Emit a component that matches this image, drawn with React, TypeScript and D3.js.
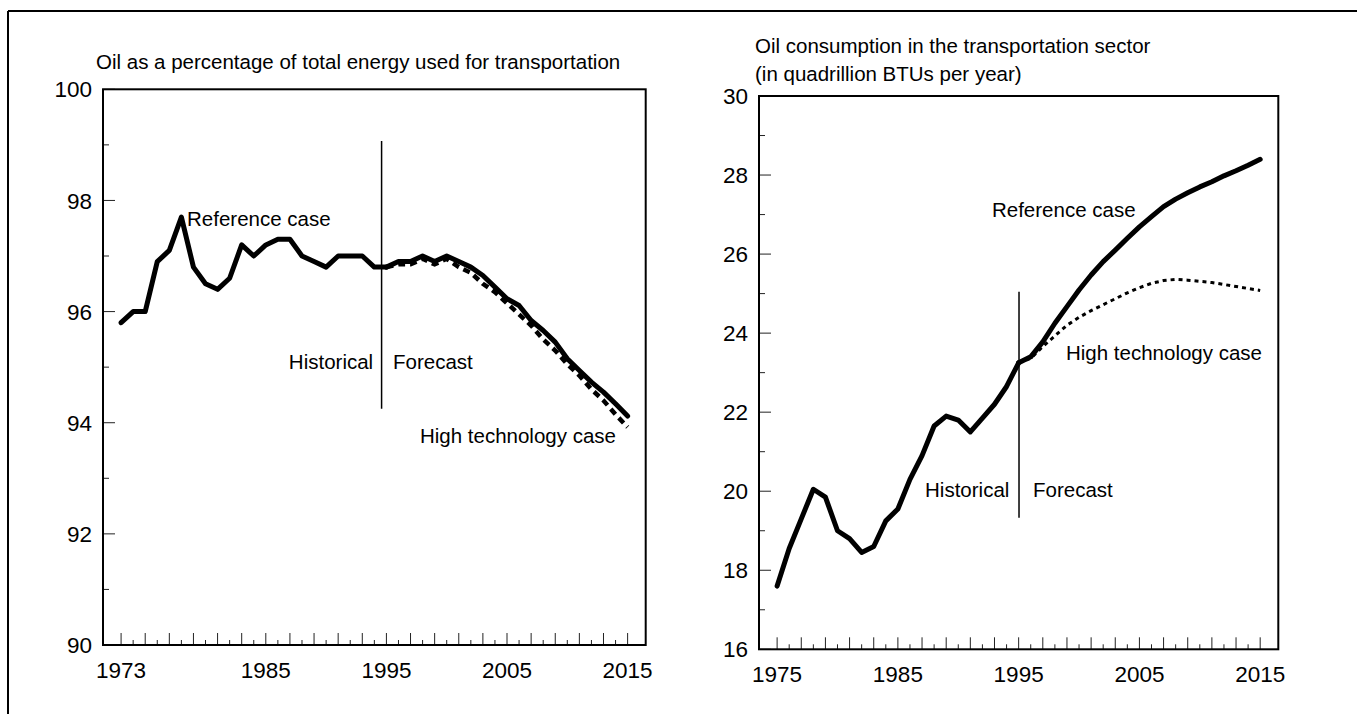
import React from 'react';
import * as d3 from 'd3';

// ---------- data ----------
const leftHistYears = [1973, 1974, 1975, 1976, 1977, 1978, 1979, 1980, 1981, 1982, 1983, 1984, 1985, 1986, 1987, 1988, 1989, 1990, 1991, 1992, 1993, 1994, 1995];
const leftHistRef = [95.8, 96.0, 96.0, 96.9, 97.1, 97.7, 96.8, 96.5, 96.4, 96.6, 97.2, 97.0, 97.2, 97.3, 97.3, 97.0, 96.9, 96.8, 97.0, 97.0, 97.0, 96.8, 96.8];
const leftFcYears = [1995, 1996, 1997, 1998, 1999, 2000, 2001, 2002, 2003, 2004, 2005, 2006, 2007, 2008, 2009, 2010, 2011, 2012, 2013, 2014, 2015];
const leftFcRef = [96.8, 96.9, 96.9, 97.0, 96.9, 97.0, 96.9, 96.8, 96.65, 96.44, 96.23, 96.11, 95.84, 95.66, 95.45, 95.15, 94.94, 94.73, 94.55, 94.34, 94.12];
const leftFcHigh = [96.8, 96.85, 96.85, 96.95, 96.85, 96.95, 96.8, 96.7, 96.5, 96.35, 96.15, 95.95, 95.75, 95.5, 95.3, 95.05, 94.85, 94.6, 94.4, 94.15, 93.92];

const rightHistYears = [1975, 1976, 1977, 1978, 1979, 1980, 1981, 1982, 1983, 1984, 1985, 1986, 1987, 1988, 1989, 1990, 1991, 1992, 1993, 1994, 1995];
const rightHistRef = [17.6, 18.55, 19.3, 20.05, 19.85, 19.0, 18.8, 18.45, 18.6, 19.25, 19.55, 20.3, 20.9, 21.65, 21.9, 21.8, 21.5, 21.85, 22.2, 22.65, 23.25];
const rightFcYears = [1995, 1996, 1997, 1998, 1999, 2000, 2001, 2002, 2003, 2004, 2005, 2006, 2007, 2008, 2009, 2010, 2011, 2012, 2013, 2014, 2015];
const rightFcRef = [23.25, 23.4, 23.78, 24.25, 24.67, 25.09, 25.47, 25.81, 26.1, 26.4, 26.69, 26.95, 27.2, 27.39, 27.55, 27.7, 27.83, 27.98, 28.11, 28.25, 28.4];
const rightFcHigh = [23.25, 23.36, 23.66, 23.93, 24.2, 24.4, 24.57, 24.72, 24.87, 25.02, 25.15, 25.26, 25.33, 25.36, 25.34, 25.31, 25.28, 25.23, 25.18, 25.13, 25.08];

const leftTitle = ['Oil as a percentage of total energy used for transportation'];
const rightTitle = ['Oil consumption in the transportation sector', '(in quadrillion BTUs per year)'];
const leftXLabels = [1973, 1985, 1995, 2005, 2015];
const rightXLabels = [1975, 1985, 1995, 2005, 2015];

const FONT = '"Liberation Sans", Arial, Helvetica, sans-serif';

type Annot = { text: string; x: number; y: number; anchor: 'start' | 'end' };

type PanelProps = {
  xDomain: [number, number];
  xRange: [number, number];
  yDomain: [number, number];
  yRange: [number, number];
  yStep: number;
  xTickStart: number;
  xTickEnd: number;
  xLabels: number[];
  title: string[];
  titleX: number;
  titleY: number;
  histYears: number[];
  histRef: number[];
  fcYears: number[];
  fcRef: number[];
  fcHigh: number[];
  highDash: string;
  highWidth: number;
  divider: { x: number; y0: number; y1: number };
  annots: Annot[];
};

function Panel(p: PanelProps) {
  const x = d3.scaleLinear().domain(p.xDomain).range(p.xRange);
  const y = d3.scaleLinear().domain(p.yDomain).range(p.yRange);
  const line = d3
    .line<[number, number]>()
    .x((d) => x(d[0]))
    .y((d) => y(d[1]));
  const hist = line(p.histYears.map((yr, i) => [yr, p.histRef[i]] as [number, number])) || '';
  const fcR = line(p.fcYears.map((yr, i) => [yr, p.fcRef[i]] as [number, number])) || '';
  const fcH = line(p.fcYears.map((yr, i) => [yr, p.fcHigh[i]] as [number, number])) || '';
  const yTicks = d3.range(p.yDomain[0], p.yDomain[1] + 0.001, 1);
  const xTicks = d3.range(p.xTickStart, p.xTickEnd + 1, 1);
  const [x0, x1] = p.xRange;
  const [yb, yt] = p.yRange;
  return (
    <g fontFamily={FONT} fill="#000">
      {p.title.map((t, i) => (
        <text key={i} x={p.titleX} y={p.titleY + i * 27.5} fontSize={20.5}>
          {t}
        </text>
      ))}
      {/* y ticks */}
      {yTicks.map((v) => {
        const major = Math.abs((v - p.yDomain[0]) % p.yStep) < 0.001;
        return (
          <g key={'y' + v}>
            <line x1={x0} x2={x0 + (major ? 12 : 6)} y1={y(v)} y2={y(v)} stroke="#222" strokeWidth={1} />
            {major && (
              <text x={x0 - 11} y={y(v)} dy="0.36em" textAnchor="end" fontSize={22.5}>
                {v}
              </text>
            )}
          </g>
        );
      })}
      {/* x ticks */}
      {xTicks.map((yr) => {
        const major = (yr - p.xTickStart) % 2 === 0;
        return (
          <line key={'x' + yr} x1={x(yr)} x2={x(yr)} y1={yb} y2={yb - (major ? 12 : 5)} stroke="#222" strokeWidth={1} />
        );
      })}
      {p.xLabels.map((yr) => (
        <text key={'xl' + yr} x={x(yr)} y={yb + 33} textAnchor="middle" fontSize={22.5}>
          {yr}
        </text>
      ))}
      {/* frame */}
      <rect x={x0} y={yt} width={x1 - x0} height={yb - yt} fill="none" stroke="#000" strokeWidth={2} />
      {/* divider */}
      <line x1={x(p.divider.x)} x2={x(p.divider.x)} y1={y(p.divider.y0)} y2={y(p.divider.y1)} stroke="#000" strokeWidth={1.5} />
      {/* lines */}
      <path d={fcH} fill="none" stroke="#000" strokeWidth={p.highWidth} strokeDasharray={p.highDash} />
      <path d={hist} fill="none" stroke="#000" strokeWidth={5} strokeLinejoin="round" strokeLinecap="round" />
      <path d={fcR} fill="none" stroke="#000" strokeWidth={5} strokeLinejoin="round" strokeLinecap="round" />
      {p.annots.map((a, i) => (
        <text key={'a' + i} x={x(a.x)} y={y(a.y)} textAnchor={a.anchor} fontSize={20.5}>
          {a.text}
        </text>
      ))}
    </g>
  );
}

export default function App() {
  return (
    <svg
      width={1357}
      height={714}
      style={{ position: 'absolute', left: 0, top: 0, background: '#fff' }}
    >
      <rect x={0} y={0} width={1357} height={714} fill="#fff" />
      <line x1={8} x2={1357} y1={11} y2={11} stroke="#000" strokeWidth={2} />
      <line x1={8} x2={8} y1={11} y2={714} stroke="#000" strokeWidth={2} />
      <Panel
        xDomain={[1971.5, 2016.5]}
        xRange={[103, 645.7]}
        yDomain={[90, 100]}
        yRange={[645, 89.3]}
        yStep={2}
        xTickStart={1973}
        xTickEnd={2015}
        xLabels={leftXLabels}
        title={leftTitle}
        titleX={96}
        titleY={69}
        histYears={leftHistYears}
        histRef={leftHistRef}
        fcYears={leftFcYears}
        fcRef={leftFcRef}
        fcHigh={leftFcHigh}
        highDash="7,5"
        highWidth={4.5}
        divider={{ x: 1994.6, y0: 99.07, y1: 94.25 }}
        annots={[
          { text: 'Reference case', x: 1978.47, y: 97.54, anchor: 'start' },
          { text: 'Historical', x: 1993.9, y: 94.97, anchor: 'end' },
          { text: 'Forecast', x: 1995.55, y: 94.97, anchor: 'start' },
          { text: 'High technology case', x: 1997.78, y: 93.63, anchor: 'start' },
        ]}
      />
      <Panel
        xDomain={[1973.5, 2016.5]}
        xRange={[759, 1278.3]}
        yDomain={[16, 30]}
        yRange={[649.3, 96]}
        yStep={2}
        xTickStart={1975}
        xTickEnd={2015}
        xLabels={rightXLabels}
        title={rightTitle}
        titleX={755}
        titleY={53}
        histYears={rightHistYears}
        histRef={rightHistRef}
        fcYears={rightFcYears}
        fcRef={rightFcRef}
        fcHigh={rightFcHigh}
        highDash="4,4"
        highWidth={3}
        divider={{ x: 1995.03, y0: 25.05, y1: 19.33 }}
        annots={[
          { text: 'Reference case', x: 1992.79, y: 26.94, anchor: 'start' },
          { text: 'High technology case', x: 1998.92, y: 23.32, anchor: 'start' },
          { text: 'Historical', x: 1987.25, y: 19.85, anchor: 'start' },
          { text: 'Forecast', x: 1996.19, y: 19.85, anchor: 'start' },
        ]}
      />
    </svg>
  );
}
